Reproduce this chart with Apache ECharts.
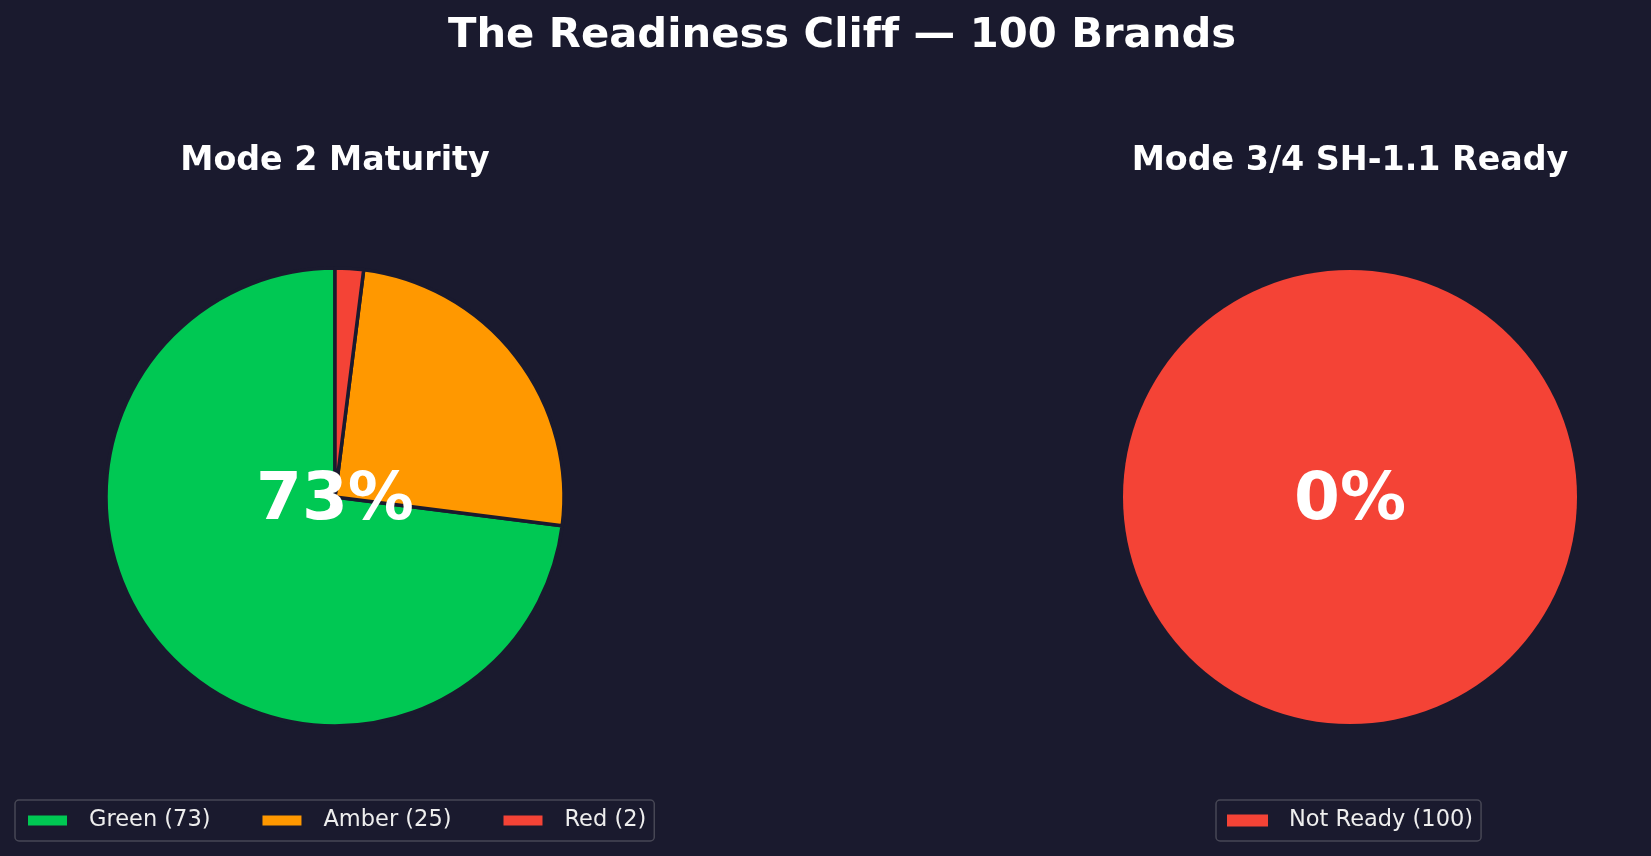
<!DOCTYPE html>
<html>
<head>
<meta charset="utf-8">
<script src="https://cdn.jsdelivr.net/npm/echarts@6/dist/echarts.min.js"></script>
<style>
  html, body { margin: 0; padding: 0; background: #1a1a2e; }
  #main { width: 1651px; height: 856px; }
</style>
</head>
<body>
<div id="main"></div>
<script>
// chart data
var maturityNames = ['Green', 'Amber', 'Red'];
var maturityCounts = [73, 25, 2];
var maturityColors = ['#00c853', '#ff9800', '#f44336'];

var readyNames = ['Not Ready'];
var readyCounts = [100];
var readyColors = ['#f44336'];

var headline = [73, 0]; // % shown in the middle of each pie
var panelTitles = ['Mode 2 Maturity', 'Mode 3/4 SH-1.1 Ready'];
// zwnj keeps the two f's from turning into a ligature
var mainTitle = 'The Readiness Clif\u200Cf \u2014 100 Brands';

var BG = '#1a1a2e';
var FONT = "'DejaVu Sans', sans-serif";

var chart = echarts.init(document.getElementById('main'), null, { renderer: 'canvas' });

function toData(names, counts, colors) {
  var out = [];
  for (var i = 0; i < names.length; i++) {
    out.push({ name: names[i], value: counts[i], itemStyle: { color: colors[i] } });
  }
  return out;
}

var counts = {};
maturityNames.forEach(function (n, i) { counts[n] = maturityCounts[i]; });
readyNames.forEach(function (n, i) { counts[n] = readyCounts[i]; });

function txt(text, x, y, size, weight) {
  return {
    type: 'text', x: x, y: y, z: 100, silent: true,
    style: {
      text: text, fill: '#ffffff', align: 'center', verticalAlign: 'middle',
      font: weight + ' ' + size + 'px ' + FONT
    }
  };
}

var legendBase = {
  orient: 'horizontal',
  top: 800,
  icon: 'rect',
  itemWidth: 41,
  itemHeight: 12,
  itemGap: 50,
  padding: [9, 8, 9, 11],
  borderColor: '#474755',
  borderWidth: 1.5,
  borderRadius: 4,
  backgroundColor: 'rgba(26,26,46,0.8)',
  selectedMode: false,
  formatter: function (name) { return name + ' (' + counts[name] + ')'; },
  textStyle: { color: '#eeeeee', fontSize: 22.5, fontFamily: FONT, padding: [0, 0, 0, 16] }
};

var option = {
  backgroundColor: BG,
  animation: false,
  legend: [
    Object.assign({}, legendBase, { left: 15, data: maturityNames }),
    Object.assign({}, legendBase, { left: 1216, data: readyNames })
  ],
  graphic: [
    txt(mainTitle, 842, 36, 41.7, 'bold'),
    txt(panelTitles[0], 335, 161, 33.3, 'bold'),
    txt(panelTitles[1], 1350, 161, 33.3, 'bold'),
    txt(headline[0] + '%', 335, 502, 66, 'bold'),
    txt(headline[1] + '%', 1350, 502, 66, 'bold')
  ],
  series: [
    {
      type: 'pie',
      center: [335, 497],
      radius: 229,
      startAngle: 90,
      clockwise: false,
      label: { show: false },
      labelLine: { show: false },
      emphasis: { disabled: true },
      itemStyle: { borderColor: BG, borderWidth: 3.5 },
      data: toData(maturityNames, maturityCounts, maturityColors)
    },
    {
      type: 'pie',
      center: [1350, 497],
      radius: 227,
      startAngle: 90,
      clockwise: false,
      label: { show: false },
      labelLine: { show: false },
      emphasis: { disabled: true },
      itemStyle: { borderWidth: 0 },
      data: toData(readyNames, readyCounts, readyColors)
    }
  ]
};

chart.setOption(option);
</script>
</body>
</html>
